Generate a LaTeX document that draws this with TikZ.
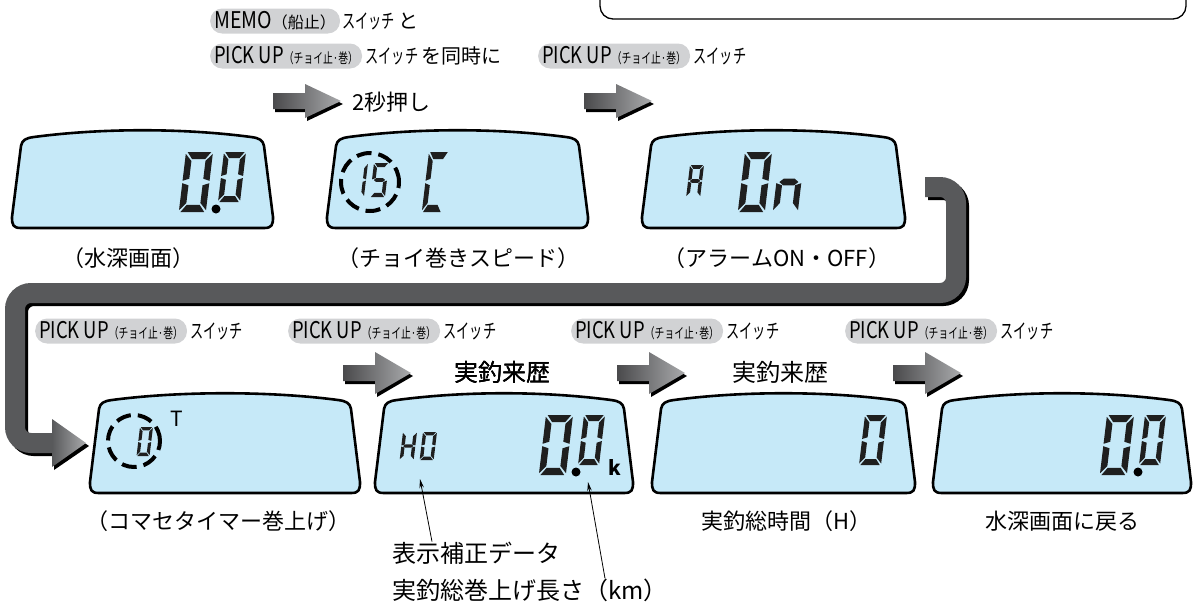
\documentclass[tikz,border=0pt]{standalone}
\usepackage{fontspec}
\setmainfont{Noto Sans CJK JP}
\usepackage{graphicx}
\usetikzlibrary{positioning,arrows.meta}

\definecolor{lcdblue}{HTML}{C6E9F8}
\definecolor{pillgray}{HTML}{D1D2D4}
\definecolor{bandgray}{HTML}{58595B}
\definecolor{arrowdark}{HTML}{4A4A4C}
\definecolor{arrowlight}{HTML}{A9AAAC}

\newcommand{\condtxt}[2][0.66]{\scalebox{#1}[1]{#2}}
\newcommand{\pickuptext}{{\fontsize{23}{23}\selectfont\condtxt[0.8]{PICK UP}}{\fontsize{14}{14}\selectfont\condtxt[0.7]{（チョイ止·巻）}}}
\newcommand{\memotext}{{\fontsize{23}{23}\selectfont\condtxt[0.85]{MEMO}}{\fontsize{16}{16}\selectfont\condtxt[1]{（船止）}}}
\newcommand{\swtext}{\condtxt{スイッチ}}

% seven segment pieces in a 10x20 box
\newcommand{\sega}{\fill[seg] (0.6,0) -- (9.4,0) -- (7.4,2.4) -- (2.6,2.4) -- cycle;}
\newcommand{\segb}{\fill[seg] (10,0.6) -- (10,9.6) -- (7.6,8.9) -- (7.6,3.0) -- cycle;}
\newcommand{\segc}{\fill[seg] (10,10.4) -- (10,19.4) -- (7.6,17.0) -- (7.6,11.1) -- cycle;}
\newcommand{\segd}{\fill[seg] (0.6,20) -- (9.4,20) -- (7.4,17.6) -- (2.6,17.6) -- cycle;}
\newcommand{\sege}{\fill[seg] (0,10.4) -- (0,19.4) -- (2.4,17.0) -- (2.4,11.1) -- cycle;}
\newcommand{\segf}{\fill[seg] (0,0.6) -- (0,9.6) -- (2.4,8.9) -- (2.4,3.0) -- cycle;}
\newcommand{\segg}{\fill[seg] (1.2,10) -- (2.8,8.9) -- (7.2,8.9) -- (8.8,10) -- (7.2,11.1) -- (2.8,11.1) -- cycle;}

% digit: x, y (top left), width, height, segments
\newcommand{\lcddigit}[5]{%
  \begin{scope}[shift={(#1,#2)}, xslant=0.12, xscale=#3/10, yscale=#4/20]
    \foreach \s in {#5} {\csname seg\s\endcsname}
  \end{scope}}

% screen outline: left, top, right, bottom
\newcommand{\lcdscreen}[4]{%
  \draw[lcdline] ({#1+9},#4) -- ({#3-9},#4)
    .. controls ({#3-1},#4) and (#3,{#4-3}) .. (#3,{#4-11})
    -- ({#3-9},{#2+17})
    .. controls ({#3-10},{#2+11}) and ({#3-14},{#2+9}) .. ({#3-22},{#2+8})
    .. controls ({#3-90},{#2-1}) and ({#1+90},{#2-1}) .. ({#1+22},{#2+8})
    .. controls ({#1+14},{#2+9}) and ({#1+10},{#2+11}) .. ({#1+9},{#2+17})
    -- (#1,{#4-11})
    .. controls (#1,{#4-3}) and ({#1+1},#4) .. ({#1+9},#4) -- cycle;}

% grey arrow: x, y (middle), half height of head
\newcommand{\blockarrow}[3]{%
  \begin{scope}[shift={(#1,#2)}]
    \fill[black] (2,-5) -- (34,-5) -- (34,{3-#3}) -- (70,3) -- (34,{3+#3}) -- (34,11) -- (2,11) -- cycle;
    \shade[left color=arrowdark, right color=arrowlight] (0,-8) -- (32,-8) -- (32,-#3) -- (68,0) -- (32,#3) -- (32,8) -- (0,8) -- cycle;
  \end{scope}}

\tikzset{
  lcdline/.style={draw=black, line width=2.6pt, fill=lcdblue, line join=round},
  seg/.style={fill=black!88},
  ring/.style={line width=4pt, dash pattern=on 15pt off 7pt},
  pill/.style={fill=pillgray, rounded corners=12pt, inner xsep=4pt, inner ysep=1pt, minimum height=25pt, anchor=west},
  swlabel/.style={inner sep=0pt, font=\fontsize{20}{20}\selectfont},
  caption/.style={inner sep=0pt, font=\fontsize{22}{22}\selectfont},
  bigcap/.style={inner sep=0pt, font=\fontsize{24}{24}\selectfont},
}

\begin{document}
\begin{tikzpicture}[x=1pt, y=-1pt, >={Stealth[length=9pt,width=4.5pt]}]
\useasboundingbox (0,0) rectangle (1193,608);

% note frame at the top
\draw[line width=1.3pt, rounded corners=13pt] (600,-20) -- (600,19) -- (1186,19) -- (1186,-20);

% return band
\coordinate (bandA) at (925,187);
\coordinate (bandB) at (56,443);
\foreach \dx/\col in {3/black, 0/bandgray}
  \draw[line width=20pt, draw=\col, rounded corners=16pt, transform canvas={shift={(\dx pt,-\dx pt)}}]
    (bandA) -- (956,187) -- (956,293) -- (15,293) -- (15,443) -- (bandB);
\fill[black] (54,422) -- (89,446) -- (54,470) -- cycle;
\shade[left color=bandgray, right color=arrowlight] (52,419) -- (86,443) -- (52,467) -- cycle;

% switch labels, first row
\node[pill] (memo) at (210,21) {\memotext};
\node[swlabel, right=2pt of memo] (memosw) {\swtext\,と};
\node[pill] (pk1) at (210,56) {\pickuptext};
\node[swlabel, right=3pt of pk1] (pk1sw) {\swtext\,を同時に};
\node[pill] (pk2) at (538,56) {\pickuptext};
\node[swlabel, right=3pt of pk2] (pk2sw) {\swtext};
\blockarrow{273}{101}{17}
\node[caption, anchor=west] (press) at (352,102) {2秒押し};
\blockarrow{584}{101}{17}

% screens, first row
\lcdscreen{12}{129}{273}{228}
\lcddigit{186}{152}{27}{60}{a,b,c,d,e,f}
\fill (216,209) circle (4.5pt);
\lcddigit{224}{152}{22}{50}{a,b,c,d,e,f}
\node[caption] (cap1) at (128,258) {（水深画面）};

\lcdscreen{327}{129}{588}{228}
\draw[ring] (370,182) circle (29pt);
\lcddigit{355}{163}{13}{34}{b,c}
\lcddigit{374}{163}{15}{34}{a,f,g,c,d}
\lcddigit{429}{152}{20}{60}{a,f,e,d}
\node[caption] (cap2) at (458,258) {（チョイ巻きスピード）};

\lcdscreen{642}{129}{905}{228}
\lcddigit{690}{165}{14}{32}{a,b,c,e,f,g}
\lcddigit{745}{152}{27}{60}{a,b,c,d,e,f}
\lcddigit{780}{152}{25}{60}{c,e,g}
\node[caption] (cap3) at (777,258) {（アラームON・OFF）};

% switch labels, second row
\foreach \px/\nm in {35/pa, 288/pb, 571/pc, 845/pd} {
  \node[pill] (\nm) at (\px,331) {\pickuptext};
  \node[swlabel, right=3pt of \nm] (\nm sw) {\swtext};
}
\foreach \ax in {343, 617, 893}
  \blockarrow{\ax}{373}{21}
\node[bigcap] (hist1) at (502,372) {実釣来歴};
\node[bigcap] (hist2) at (780,372) {実釣来歴};

% screens, second row
\lcdscreen{90}{392}{360}{493}
\draw[ring] (134,441) circle (26pt);
\lcddigit{140}{427}{13}{29}{a,b,c,d,e,f}
\node[inner sep=0pt, font=\fontsize{21}{21}\selectfont] (tmark) at (177,419) {T};
\node[caption] (cap4) at (218,521) {（コマセタイマー巻上げ）};

\lcdscreen{375}{392}{633}{493}
\lcddigit{403}{432}{14}{28}{b,c,e,f,g}
\lcddigit{423}{432}{14}{28}{a,b,c,d,e,f}
\lcddigit{546}{415}{27}{60}{a,b,c,d,e,f}
\fill (576,472) circle (4.5pt);
\lcddigit{584}{415}{21}{50}{a,b,c,d,e,f}
\node[inner sep=0pt, font=\bfseries\fontsize{20}{20}\selectfont] (kmark) at (615,468) {k};
\coordinate (hoPt) at (420,479);
\coordinate (kmPt) at (588,482);

\lcdscreen{652}{392}{915}{493}
\lcddigit{865}{415}{22}{50}{a,b,c,d,e,f}
\node[caption] (cap6) at (786,521) {実釣総時間（H）};

\lcdscreen{933}{392}{1191}{493}
\lcddigit{1107}{415}{27}{60}{a,b,c,d,e,f}
\fill (1138,472) circle (4.5pt);
\lcddigit{1145}{415}{21}{50}{a,b,c,d,e,f}
\node[caption] (cap7) at (1062,521) {水深画面に戻る};

% notes under the screens
\node[bigcap, anchor=west] (hosei) at (392,553) {表示補正データ};
\node[bigcap, anchor=west] (kmlen) at (392,590) {実釣総巻上げ長さ（km）};
\draw[->, line width=0.8pt] ([xshift=40pt]hosei.north west) -- (hoPt);
\draw[->, line width=0.8pt] ([xshift=213pt]kmlen.north west) -- (kmPt);
\end{tikzpicture}
\end{document}
